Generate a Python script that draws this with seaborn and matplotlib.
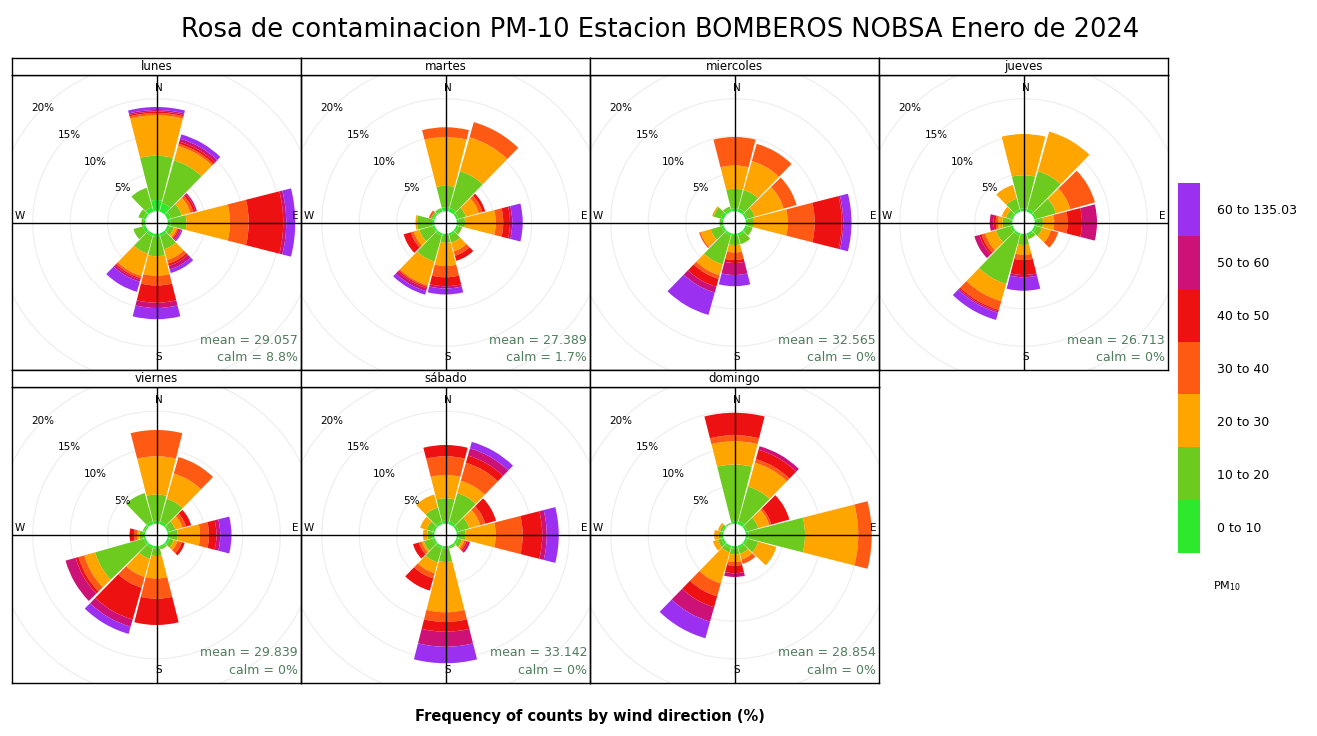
import numpy as np
import matplotlib
matplotlib.use("Agg")
import matplotlib.pyplot as plt
from matplotlib.colors import ListedColormap
import seaborn as sns

days = ["lunes", "martes", "miercoles", "jueves", "viernes", "sábado", "domingo"]
directions = [0, 30, 60, 90, 120, 150, 180, 210, 240, 270, 300, 330]
pm_bins = ["0 to 10", "10 to 20", "20 to 30", "30 to 40", "40 to 50", "50 to 60", "60 to 135.03"]
bin_colors = ["#2EE82E", "#6CCB1E", "#FFA500", "#FF5A14", "#EE1111", "#CC1177", "#9B30F0"]

# frequency (%) by wind sector (rows: N, 30, 60 ... 330), split by PM10 bin (columns)
lunes = [
    [1.5, 5.9, 5.4, 0.3, 0.2, 0.2, 0.4],
    [1.2, 5.9, 2.0, 0.3, 0.3, 0.4, 0.6],
    [0.5, 1.5, 1.2, 0.4, 0.3, 0.2, 0.0],
    [0.4, 2.1, 5.8, 2.5, 4.6, 0.4, 1.2],
    [0.3, 0.6, 0.4, 0.2, 0.2, 0.2, 0.2],
    [0.4, 1.8, 1.5, 0.5, 0.3, 0.5, 0.5],
    [0.4, 2.6, 2.6, 1.3, 2.3, 0.7, 1.5],
    [0.4, 2.4, 3.1, 0.3, 0.2, 0.3, 1.4],
    [0.4, 1.3, 0.0, 0.0, 0.0, 0.0, 0.0],
    [0.2, 0.3, 0.0, 0.0, 0.0, 0.0, 0.0],
    [0.3, 0.7, 0.0, 0.0, 0.0, 0.0, 0.0],
    [0.6, 2.7, 0.0, 0.0, 0.0, 0.0, 0.0],
]
martes = [
    [0.5, 2.9, 6.5, 1.3, 0.0, 0.0, 0.0],
    [0.5, 5.1, 4.7, 2.1, 0.0, 0.0, 0.0],
    [0.3, 1.0, 1.8, 0.5, 0.4, 0.0, 0.0],
    [0.3, 0.8, 4.1, 1.0, 0.9, 0.3, 1.4],
    [0.3, 0.5, 0.0, 0.0, 0.0, 0.0, 0.0],
    [0.3, 1.0, 1.2, 0.6, 0.7, 0.0, 0.0],
    [0.3, 0.9, 3.1, 1.5, 1.2, 0.3, 0.8],
    [0.3, 3.6, 3.3, 0.2, 0.2, 0.4, 0.5],
    [0.3, 1.8, 0.8, 0.4, 1.0, 0.0, 0.0],
    [0.3, 2.0, 0.2, 0.0, 0.0, 0.0, 0.0],
    [0.2, 0.3, 0.0, 0.3, 0.0, 0.0, 0.0],
    [0.3, 0.2, 0.0, 0.0, 0.0, 0.0, 0.0],
]
miercoles = [
    [0.4, 2.6, 3.1, 3.8, 0.0, 0.0, 0.0],
    [0.4, 2.6, 4.0, 2.4, 0.0, 0.0, 0.0],
    [0.3, 1.0, 4.0, 1.8, 0.0, 0.0, 0.0],
    [0.3, 0.8, 4.5, 3.6, 3.6, 0.2, 1.1],
    [0.3, 0.7, 0.0, 0.0, 0.0, 0.0, 0.0],
    [0.3, 1.2, 0.0, 0.0, 0.0, 0.0, 0.0],
    [0.3, 1.2, 1.0, 1.0, 0.4, 1.6, 1.5],
    [0.3, 4.0, 1.5, 0.5, 1.1, 0.8, 3.1],
    [0.3, 1.5, 1.4, 0.2, 0.0, 0.0, 0.0],
    [0.2, 0.3, 0.0, 0.0, 0.0, 0.0, 0.0],
    [0.4, 1.0, 0.2, 0.0, 0.0, 0.0, 0.0],
    [0.3, 0.4, 0.0, 0.0, 0.0, 0.0, 0.0],
]
jueves = [
    [0.4, 4.4, 5.5, 0.0, 0.0, 0.0, 0.0],
    [0.4, 5.2, 5.5, 0.0, 0.0, 0.0, 0.0],
    [0.3, 2.7, 2.0, 3.4, 0.0, 0.0, 0.0],
    [0.3, 0.8, 1.5, 1.8, 1.9, 2.0, 0.0],
    [0.3, 0.8, 1.2, 1.0, 0.0, 0.0, 0.0],
    [0.3, 0.5, 0.0, 0.0, 0.0, 0.0, 0.0],
    [0.3, 1.2, 1.3, 0.7, 2.0, 0.3, 1.8],
    [0.3, 6.7, 2.4, 1.2, 0.2, 0.2, 1.0],
    [0.3, 2.0, 1.5, 0.5, 0.3, 0.7, 0.0],
    [0.3, 1.0, 0.6, 0.3, 0.3, 0.5, 0.0],
    [0.3, 0.6, 0.6, 0.0, 0.0, 0.0, 0.0],
    [0.3, 1.5, 1.9, 0.0, 0.0, 0.0, 0.0],
]
viernes = [
    [0.4, 3.5, 5.1, 3.5, 0.0, 0.0, 0.0],
    [0.4, 3.1, 3.5, 2.3, 0.0, 0.0, 0.0],
    [0.3, 0.8, 1.0, 0.5, 0.7, 0.0, 0.0],
    [0.3, 1.0, 3.0, 1.2, 1.0, 0.5, 1.5],
    [0.3, 0.6, 0.5, 0.6, 0.4, 0.0, 0.0],
    [0.2, 0.3, 0.0, 0.0, 0.0, 0.0, 0.0],
    [0.3, 1.0, 3.0, 2.7, 3.5, 0.0, 0.0],
    [0.3, 1.5, 2.5, 1.5, 4.4, 1.0, 1.0],
    [0.3, 6.7, 1.5, 0.8, 0.4, 1.4, 0.0],
    [0.3, 0.5, 0.3, 0.4, 0.6, 0.0, 0.0],
    [0.2, 0.2, 0.0, 0.0, 0.0, 0.0, 0.0],
    [0.4, 3.9, 0.0, 0.0, 0.0, 0.0, 0.0],
]
sabado = [
    [0.4, 3.0, 3.1, 2.5, 1.5, 0.0, 0.0],
    [0.4, 3.9, 1.7, 2.5, 1.0, 1.0, 0.9],
    [0.3, 1.5, 1.5, 0.7, 1.5, 0.0, 0.0],
    [0.3, 0.9, 4.0, 3.6, 2.6, 0.6, 1.6],
    [0.3, 0.5, 0.3, 0.3, 0.2, 0.3, 0.0],
    [0.2, 0.2, 0.0, 0.0, 0.0, 0.0, 0.0],
    [0.3, 1.8, 6.7, 1.3, 1.3, 2.0, 2.2],
    [0.3, 2.0, 1.5, 0.7, 1.7, 0.0, 0.0],
    [0.3, 1.2, 0.3, 0.4, 0.8, 0.0, 0.0],
    [0.3, 0.6, 0.6, 0.0, 0.0, 0.0, 0.0],
    [0.3, 0.8, 0.9, 0.0, 0.0, 0.0, 0.0],
    [0.3, 2.0, 1.8, 0.0, 0.0, 0.0, 0.0],
]
domingo = [
    [0.4, 7.5, 3.1, 0.8, 3.0, 0.0, 0.0],
    [0.4, 4.8, 3.3, 0.5, 1.3, 0.5, 0.0],
    [0.3, 1.5, 1.5, 0.3, 2.5, 0.0, 0.0],
    [0.4, 7.5, 7.1, 1.8, 0.0, 0.0, 0.0],
    [0.3, 1.5, 2.5, 0.0, 0.0, 0.0, 0.0],
    [0.3, 0.8, 0.8, 0.6, 0.0, 0.0, 0.0],
    [0.3, 0.8, 1.0, 0.5, 1.0, 0.5, 0.0],
    [0.3, 0.6, 4.3, 1.8, 1.5, 2.0, 2.3],
    [0.3, 0.5, 0.7, 0.0, 0.0, 0.0, 0.0],
    [0.2, 0.4, 0.6, 0.0, 0.0, 0.0, 0.0],
    [0.2, 0.3, 0.3, 0.0, 0.0, 0.0, 0.0],
    [0.1, 0.1, 0.0, 0.0, 0.0, 0.0, 0.0],
]
day_data = [lunes, martes, miercoles, jueves, viernes, sabado, domingo]
means = [29.057, 27.389, 32.565, 26.713, 29.839, 33.142, 28.854]
calms = [8.8, 1.7, 0, 0, 0, 0, 0]
grid_pct = [5, 10, 15, 20]

sns.set_theme(style="white")
plt.rcParams['font.family'] = ['DejaVu Sans']
plt.rcParams['text.color'] = 'black'
plt.rcParams['ytick.color'] = 'black'

W, H = 1317, 736
fig = plt.figure(figsize=(W / 100, H / 100), dpi=100)

def rect(x0, y0, x1, y1):
    # pixel box (top-left origin) -> figure fraction
    return [x0 / W, 1 - y1 / H, (x1 - x0) / W, (y1 - y0) / H]

scale = 7.5     # px per percent
offset = 1.5    # hole in the middle (percent units)
rmax = 22
col_x = [12, 301, 590, 879]
pw = 289
rows = [(58, 75, 370), (370, 387, 683)]
theta = np.deg2rad(directions)
width = np.deg2rad(28.5)

for i, day in enumerate(days):
    r, c = divmod(i, 4)
    x0, x1 = col_x[c], col_x[c] + pw
    st, top, bot = rows[r]
    cx, cy = (x0 + x1) / 2, (top + bot) / 2

    frame = fig.add_axes(rect(x0, top, x1, bot), zorder=2)
    frame.set_facecolor("none")
    hx, hy = pw / 2 / scale, (bot - top) / 2 / scale
    frame.set_xlim(-hx, hx)
    frame.set_ylim(-hy, hy)
    frame.set_xticks([])
    frame.set_yticks([])
    for sp in frame.spines.values():
        sp.set_color("black")
        sp.set_linewidth(1)

    rpx = (offset + rmax) * scale
    pax = fig.add_axes(rect(cx - rpx, cy - rpx, cx + rpx, cy + rpx), projection="polar", zorder=1)
    pax.set_theta_zero_location("N")
    pax.set_theta_direction(-1)
    pax.set_rorigin(-offset)
    pax.set_rlim(0, rmax)
    pax.axis("off")

    ring = np.linspace(0, 2 * np.pi, 240)
    for p in grid_pct:
        ln, = pax.plot(ring, np.full_like(ring, p), color="#efefef", lw=0.9, zorder=0)
        ln.set_clip_path(frame.patch)

    vals = np.array(day_data[i])
    base = np.zeros(len(directions))
    for b in range(len(pm_bins)):
        bars = pax.bar(theta, vals[:, b], bottom=base, width=width, color=bin_colors[b],
                       linewidth=0, zorder=2)
        for patch in bars:
            patch.set_clip_path(frame.patch)
        base = base + vals[:, b]

    frame.axhline(0, color="black", lw=1)
    frame.axvline(0, color="black", lw=1)
    frame.text(0.35, hy - 1.7, "N", ha="center", va="center", fontsize=7.5)
    frame.text(0.35, -hy + 1.7, "S", ha="center", va="center", fontsize=7.5)
    frame.text(-hx + 0.3, 0.25, "W", ha="left", va="bottom", fontsize=7.5)
    frame.text(hx - 0.3, 0.25, "E", ha="right", va="bottom", fontsize=7.5)
    for p in grid_pct:
        d = (offset + p) / np.sqrt(2)
        frame.text(-d, d, f"{p}%", ha="center", va="center", fontsize=7.5)
    frame.text(hx - 0.4, -hy + 4.0, f"mean = {means[i]:.3f}", ha="right", va="center",
               fontsize=9, color="#4f7d5c")
    frame.text(hx - 0.4, -hy + 1.7, f"calm = {calms[i]:g}%", ha="right", va="center",
               fontsize=9, color="#4f7d5c")

    sax = fig.add_axes(rect(x0, st, x1, top), zorder=3)
    sax.set_facecolor("white")
    sax.set_xticks([])
    sax.set_yticks([])
    for sp in sax.spines.values():
        sp.set_color("black")
        sp.set_linewidth(1)
    sax.text(0.5, 0.5, day, ha="center", va="center", fontsize=8.5, transform=sax.transAxes)

# colour key
kax = fig.add_axes(rect(1178, 183, 1200, 553))
key = np.arange(len(pm_bins))[::-1].reshape(-1, 1)
sns.heatmap(key, ax=kax, cmap=ListedColormap(bin_colors), cbar=False,
            xticklabels=False, yticklabels=pm_bins[::-1], vmin=-0.5, vmax=len(pm_bins) - 0.5)
kax.yaxis.tick_right()
kax.tick_params(axis="y", length=0, pad=12, labelsize=9, labelrotation=0)
fig.text(1213 / W, 1 - 586 / H, "PM$_{10}$", ha="left", va="center", fontsize=8)

fig.text(660 / W, 1 - 30 / H, "Rosa de contaminacion PM-10 Estacion BOMBEROS NOBSA Enero de 2024",
         ha="center", va="center", fontsize=18.5)
fig.text(590 / W, 1 - 717 / H, "Frequency of counts by wind direction (%)",
         ha="center", va="center", fontsize=10.5, fontweight="bold")

fig.savefig("out.png", dpi=100)
